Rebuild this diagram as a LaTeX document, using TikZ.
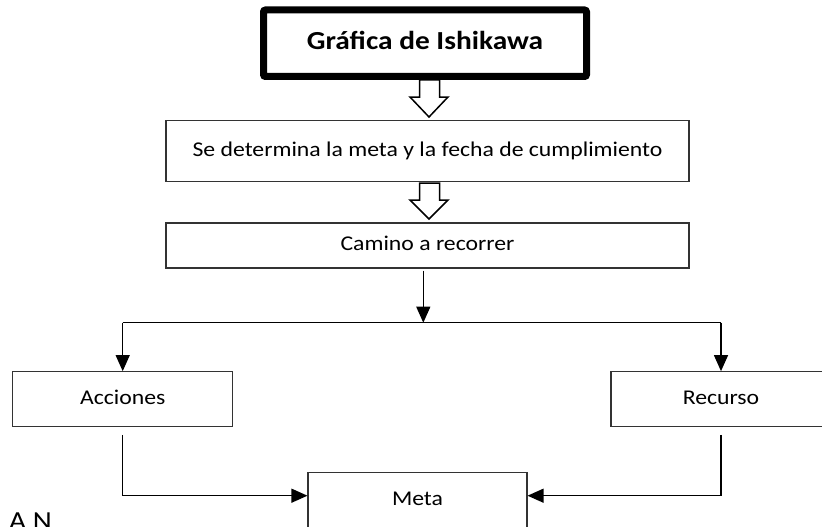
\documentclass[tikz,border=0pt]{standalone}
\usepackage{fontspec}
\usepackage{graphicx}
\setmainfont{Carlito}
\usetikzlibrary{arrows.meta,calc}
\newcommand{\wtxt}[1]{\scalebox{1.13}[1]{#1}}
\begin{document}
\begin{tikzpicture}[x=1pt,y=-1pt,
  box/.style={draw=black!80,line width=1.1pt,inner sep=0pt,text height=14pt,text depth=4pt,font=\fontsize{21}{25}\selectfont},
  conn/.style={line width=1.2pt,-{Triangle[width=14pt,length=16pt]}},
  plain/.style={line width=1.2pt},
  hollow/.style={draw=black,line width=1.5pt,fill=white,line join=miter}]
\useasboundingbox (0,0) rectangle (822,527);
% title
\node[draw,line width=7pt,rounded corners=2pt,minimum width=323pt,minimum height=66.5pt,inner sep=0pt,text height=18pt,text depth=5pt,font=\bfseries\fontsize{26}{30}\selectfont] (title) at (425,43.25) {\wtxt{Gráfica de Ishikawa}};
% boxes
\node[box,minimum width=523pt,minimum height=61pt] (fecha) at (427.5,151.2) {\wtxt{Se determina la meta y la fecha de cumplimiento}};
\node[box,minimum width=523pt,minimum height=45pt] (camino) at (427.5,245.5) {\wtxt{Camino a recorrer}};
\node[box,minimum width=220pt,minimum height=55pt] (acc) at (122.7,399.2) {\wtxt{Acciones}};
\node[box,minimum width=220pt,minimum height=55pt] (rec) at (721,399.2) {\wtxt{Recurso}};
\node[box,minimum width=219pt,minimum height=56pt] (meta) at (417.5,500.7) {\wtxt{Meta}};
% hollow arrows
\draw[hollow] (419.5,80) -- (439.5,80) -- (439.5,97) -- (448,97) -- (429,117) -- (410,97) -- (419.5,97) -- cycle;
\draw[hollow] (419.5,183) -- (439.5,183) -- (439.5,200) -- (448,200) -- (429,219) -- (410,200) -- (419.5,200) -- cycle;
% split
\coordinate (split) at (423.3,322.7);
\draw[conn] ($(camino.south -| split)+(0,2)$) -- (split);
\draw[plain] (split -| acc.north) -- (split -| rec.north);
\draw[conn] (split -| acc.north) -- (acc.north);
\draw[conn] (split -| rec.north) -- (rec.north);
% to meta
\draw[conn] ($(acc.south)+(0,7.5)$) |- ($(meta.west)+(0,-5)$);
\draw[conn] ($(rec.south)+(0,7.5)$) |- ($(meta.east)+(0,-5)$);
% partial text
\node[anchor=north west,inner sep=0pt,font=\fontsize{26}{30}\selectfont] (an) at (9,513) {\wtxt{A N}};
\end{tikzpicture}
\end{document}
